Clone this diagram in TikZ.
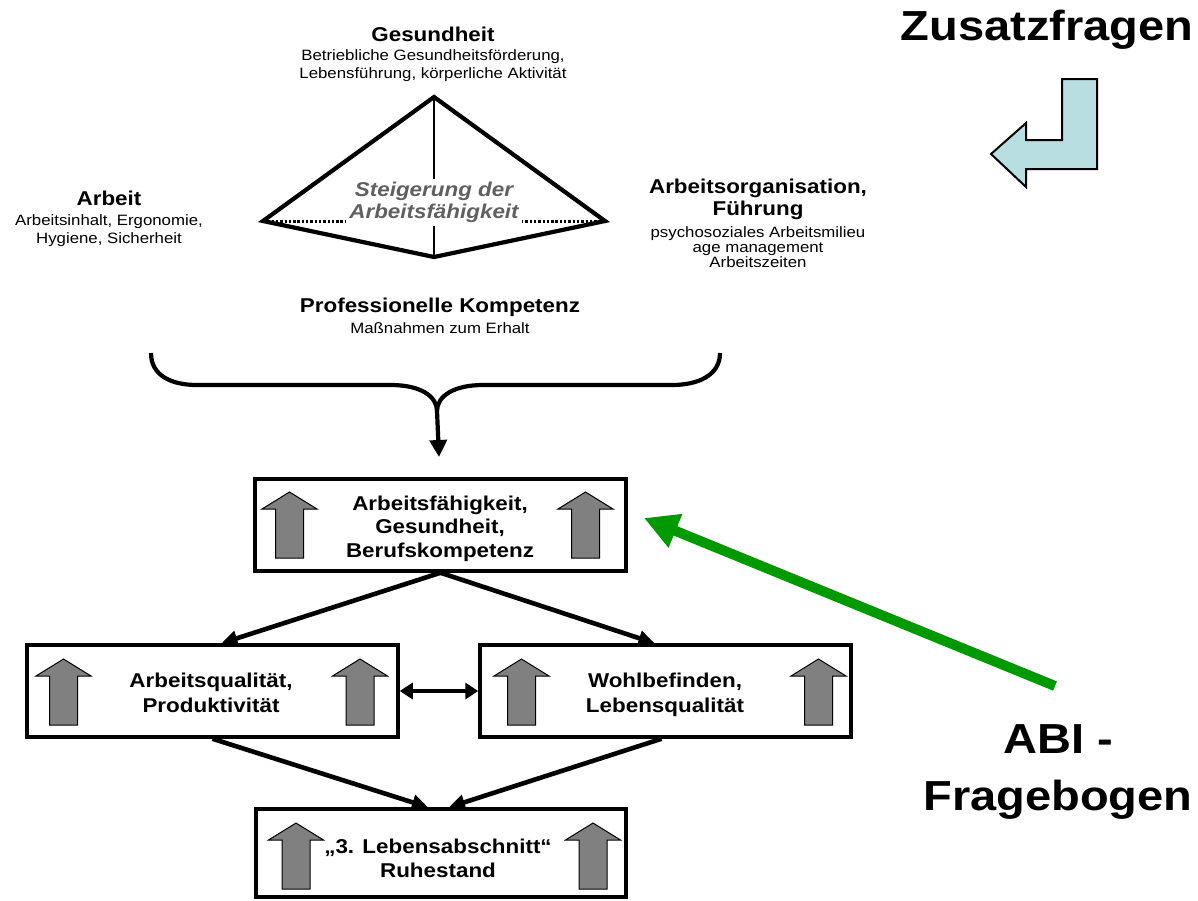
\documentclass[tikz,border=0pt]{standalone}
\usepackage{fontspec}
\setmainfont{Liberation Sans}[FakeStretch=1.12]
\usetikzlibrary{arrows.meta}
\definecolor{abigreen}{RGB}{0,153,0}
\definecolor{lblue}{RGB}{184,222,226}
\definecolor{steiggray}{RGB}{96,96,96}
\definecolor{arrgray}{RGB}{128,128,128}
\begin{document}
\begin{tikzpicture}[x=1pt,y=-1pt,
  hd/.style={anchor=base,inner sep=0pt,font=\fontsize{20}{24}\selectfont\bfseries},
  sm/.style={anchor=base,inner sep=0pt,font=\fontsize{15}{18}\selectfont},
  bx/.style={anchor=base,inner sep=0pt,font=\fontsize{20}{24}\selectfont\bfseries},
  big/.style={anchor=base,inner sep=0pt,font=\fontsize{42}{50}\selectfont\bfseries},
  frame/.style={draw=black,line width=3.5pt,minimum width=371pt,minimum height=92pt,inner sep=0pt},
  conn/.style={line width=4.6pt,-{Triangle[length=16pt,width=15pt]}},
  upar/.pic={\draw[fill=arrgray,line width=1pt] (0,0) -- (27.5,17) -- (14,17) -- (14,66) -- (-14,66) -- (-14,17) -- (-27.5,17) -- cycle;}
]
\fill[white] (0,0) rectangle (1198,900);
\useasboundingbox (0,0) rectangle (1198,900);

% ---------- top texts ----------
\node[hd] (gesh) at (433,41) {Gesundheit};
\node[sm] (gesa) at (433,60) {Betriebliche Gesundheitsförderung,};
\node[sm] (gesb) at (433,78) {Lebensführung, körperliche Aktivität};

\node[hd] (arbh) at (109,205) {Arbeit};
\node[sm] (arba) at (109,225) {Arbeitsinhalt, Ergonomie,};
\node[sm] (arbb) at (109,243) {Hygiene, Sicherheit};

\node[hd] (orgh) at (758,193) {Arbeitsorganisation,};
\node[hd] (orgi) at (758,215) {Führung};
\node[sm] (orga) at (758,237) {psychosoziales Arbeitsmilieu};
\node[sm] (orgb) at (758,252) {age management};
\node[sm] (orgc) at (758,267) {Arbeitszeiten};

\node[hd] (proh) at (440,312) {Professionelle Kompetenz};
\node[sm] (proa) at (440,333) {Maßnahmen zum Erhalt};

% ---------- diamond ----------
\coordinate (dtop) at (434,97);
\coordinate (dleft) at (263,221);
\coordinate (dright) at (605,221);
\coordinate (dbot) at (434,257);
\draw[line width=1.3pt] (dtop) -- (dbot);
\draw[line width=3pt,dash pattern=on 2.4pt off 1.9pt] (dleft) -- (dright);
\node[fill=white,inner sep=3pt,align=center,text=steiggray,
      font=\fontsize{20}{21.5}\selectfont\bfseries\itshape] (steig) at (434,202.5)
      {Steigerung der\\Arbeitsfähigkeit};
\draw[line width=4.2pt] (dtop) -- (dright) -- (dbot) -- (dleft) -- cycle;

% ---------- brace ----------
\coordinate (cusp) at (437,411);
\coordinate (bracetip) at (439,457);
\draw[line width=4.2pt,line join=round] (151,353) .. controls (151,376) and (172,385) .. (197,385)
  -- (391,385) .. controls (420,385) and (437,396) .. (cusp)
  .. controls (437,396) and (454,385) .. (483,385)
  -- (672,385) .. controls (697,385) and (720,376) .. (720,353);
\draw[line width=4.2pt,-{Triangle[length=17pt,width=17pt]}] (cusp) -- (bracetip);

% ---------- boxes ----------
\node[frame] (b1) at (440.5,525) {};
\node[frame] (b2) at (212.5,691) {};
\node[frame] (b3) at (665.5,691) {};
\node[frame,minimum width=370pt,minimum height=88pt] (b4) at (441,853) {};

\node[bx] (b1a) at (440,510) {Arbeitsfähigkeit,};
\node[bx] (b1b) at (440,533) {Gesundheit,};
\node[bx] (b1c) at (440,557) {Berufskompetenz};
\node[bx] (b2a) at (211,687) {Arbeitsqualität,};
\node[bx] (b2b) at (211,712) {Produktivität};
\node[bx] (b3a) at (665,687) {Wohlbefinden,};
\node[bx] (b3b) at (665,712) {Lebensqualität};
\node[bx] (b4a) at (438,853) {„3. Lebensabschnitt“};
\node[bx] (b4b) at (438,877) {Ruhestand};

\pic at (289.5,492) {upar};
\pic at (585.5,492) {upar};
\pic at (63.5,659) {upar};
\pic at (360,659) {upar};
\pic at (521.5,659) {upar};
\pic at (818.5,659) {upar};
\pic at (296,823) {upar};
\pic at (593,823) {upar};

% ---------- connectors ----------
\draw[conn] (b1.south) -- ([xshift=9pt]b2.north);
\draw[conn] (b1.south) -- ([xshift=-11pt]b3.north);
\draw[conn] (b2.south) -- ([xshift=-13pt]b4.north);
\draw[conn] ([xshift=-4pt]b3.south) -- ([xshift=8pt]b4.north);
\draw[line width=4.6pt,{Triangle[length=13pt,width=16pt]}-{Triangle[length=13pt,width=16pt]}] (b2.east) -- (b3.west);

% ---------- right side ----------
\node[big] (zus) at (1047,40) {Zusatzfragen};
\draw[fill=lblue,line width=2pt] (1062,79) -- (1097,79) -- (1097,169) -- (1026,169) -- (1026,187)
  -- (991,154) -- (1026,123) -- (1026,140) -- (1062,140) -- cycle;

\node[big] (abia) at (1058,753) {ABI -};
\node[big] (abib) at (1058,810) {Fragebogen};
\coordinate (abitail) at (1055,686);
\coordinate (abitip) at (644,518);
\draw[abigreen,line width=10pt,-{Triangle[length=34pt,width=34pt]}] (abitail) -- (abitip);
\end{tikzpicture}
\end{document}
